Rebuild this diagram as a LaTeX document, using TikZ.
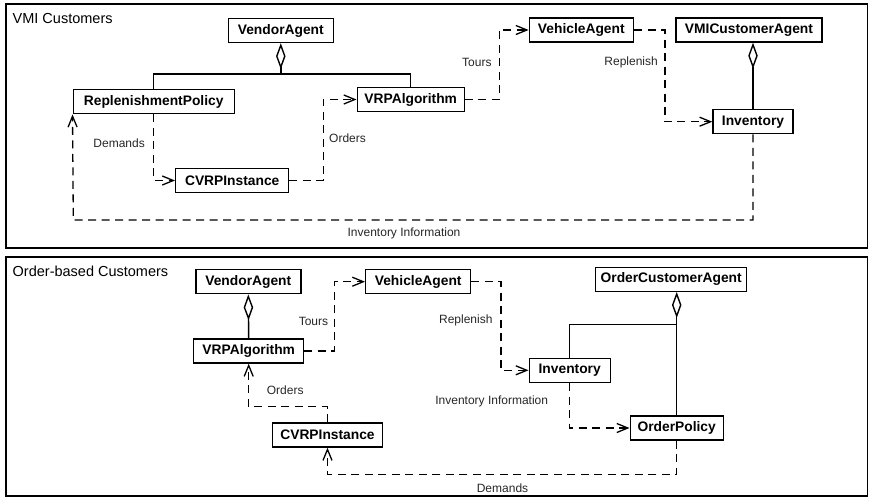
\documentclass[tikz,border=0pt]{standalone}
\usepackage{fontspec}
\setmainfont{Liberation Sans}
\usetikzlibrary{arrows.meta}
\begin{document}
\begin{tikzpicture}[x=1pt,y=-1pt,
 box/.style={draw, line width=1.4pt, fill=white, font=\fontsize{13.8}{16}\selectfont\bfseries, minimum height=24pt, inner xsep=2pt, inner ysep=2pt},
 dep/.style={line width=1.3pt, dash pattern=on 8pt off 5.5pt, -{Straight Barb[length=11pt,width=9pt]}},
 agg/.style={line width=1.4pt, {Diamond[open,length=26pt,width=9.5pt]}-},
 plain/.style={line width=1.4pt},
 lbl/.style={font=\fontsize{12}{14}\selectfont, text=black!85, inner sep=0pt},
 ttl/.style={font=\fontsize{14.5}{17}\selectfont, inner sep=0pt, anchor=west},
 frame/.style={draw, line width=1.5pt}]
\useasboundingbox (0,0) rectangle (870,499);
% frames
\draw[frame] (6,4) rectangle (867.5,248);
\draw[frame] (6,257) rectangle (867.5,496);
\node[ttl] (t1) at (12.5,18.5) {VMI Customers};
\node[ttl] (t2) at (12.5,271.5) {Order-based Customers};

% ---------- top panel ----------
\node[box, minimum width=105pt] (VA1) at (280.8,30.5) {VendorAgent};
\node[box, minimum width=161pt] (RP) at (153.7,101.7) {ReplenishmentPolicy};
\node[box, minimum width=107pt] (VRP1) at (410.7,99.5) {VRPAlgorithm};
\node[box, minimum width=113pt] (CVRP1) at (232.2,180.5) {CVRPInstance};
\node[box, minimum width=104pt] (VehA1) at (581.3,30) {VehicleAgent};
\node[box, minimum width=146pt] (VMICA) at (749,30) {VMICustomerAgent};
\node[box, minimum width=80pt] (Inv1) at (753,121.7) {Inventory};

\coordinate (bar1) at (280.8,74);
\draw[agg] (VA1.south) -- (bar1);
\draw[plain] (RP.north) |- (bar1) -| (VRP1.north);
\draw[agg] (Inv1.north |- VMICA.south) -- (Inv1.north);

\draw[dep] (RP.south) |- (CVRP1.west);
\node[lbl, anchor=east] (l1) at (145,143.5) {Demands};
\coordinate (o1) at (323.3,180.5);
\draw[dep] (CVRP1.east) -- (o1) |- (VRP1.west);
\node[lbl, anchor=west] (l2) at (329,138.5) {Orders};
\coordinate (tr1) at (499.3,99.5);
\draw[dep] (VRP1.east) -- (tr1) |- (VehA1.west);
\node[lbl, anchor=east] (l3) at (491.7,62.7) {Tours};
\coordinate (rp1) at (665,30);
\draw[dep] (VehA1.east) -- (rp1) |- (Inv1.west);
\node[lbl, anchor=east] (l4) at (658,62.7) {Replenish};
\coordinate (ii1) at (73.3,220);
\draw[dep] (Inv1.south) |- (ii1) -- (RP.south west);
\node[lbl] (l5) at (404,233.5) {Inventory Information};

% ---------- bottom panel ----------
\node[box, minimum width=105pt] (VA2) at (248.3,281.7) {VendorAgent};
\node[box, minimum width=110pt] (VRP2) at (248.7,351) {VRPAlgorithm};
\node[box, minimum width=105pt] (VehA2) at (418.2,281.7) {VehicleAgent};
\node[box, minimum width=110pt] (CVRP2) at (327.5,435) {CVRPInstance};
\node[box, minimum width=81pt] (Inv2) at (569.7,370.3) {Inventory};
\node[box, minimum width=151pt] (OCA) at (671.2,279.3) {OrderCustomerAgent};
\node[box, minimum width=93pt] (OP) at (676.7,428) {OrderPolicy};

\draw[agg] (VA2.south) -- (VRP2.north);
\coordinate (j2) at (676.7,324.3);
\draw[agg] (OP.north |- OCA.south) -- (OP.north);
\draw[plain] (j2) -| (Inv2.north);

\coordinate (tr2) at (334.3,351);
\draw[dep] (VRP2.east) -- (tr2) |- (VehA2.west);
\node[lbl, anchor=east] (l6) at (328.3,321) {Tours};
\coordinate (rp2) at (501,281.7);
\draw[dep] (VehA2.east) -- (rp2) |- (Inv2.west);
\node[lbl, anchor=east] (l7) at (492.7,320) {Replenish};
\draw[dep] (Inv2.south) |- (OP.west);
\node[lbl, anchor=east] (l8) at (548.3,401) {Inventory Information};
\coordinate (or2) at (327.5,406.7);
\draw[dep] (CVRP2.north) -- (or2) -| (VRP2.south);
\node[lbl, anchor=west] (l9) at (266.7,390) {Orders};
\coordinate (dm2) at (676.7,474.3);
\draw[dep] (OP.south) -- (dm2) -| (CVRP2.south);
\node[lbl] (l10) at (502.5,488.3) {Demands};
\end{tikzpicture}
\end{document}
